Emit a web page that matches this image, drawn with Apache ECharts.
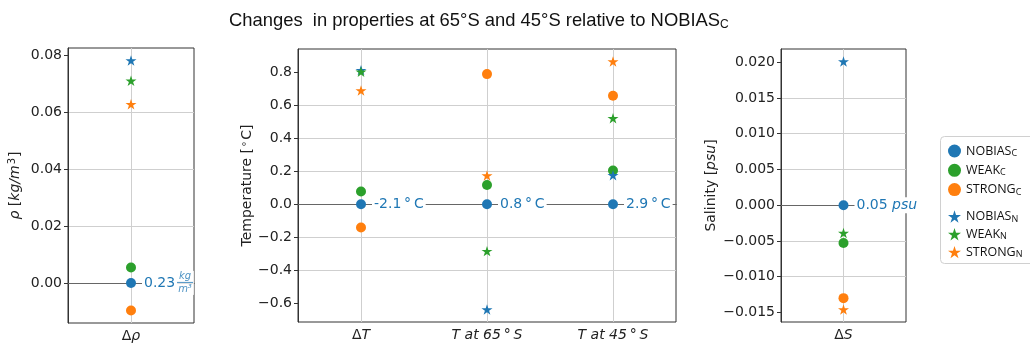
<!DOCTYPE html>
<html>
<head>
<meta charset="utf-8">
<script src="https://cdn.jsdelivr.net/npm/echarts@6/dist/echarts.min.js"></script>
<style>
  html, body { margin: 0; padding: 0; background: #fff; }
  #chart { width: 1030px; height: 346px; }
</style>
</head>
<body>
<div id="chart"></div>
<script>
// Property order: [Δρ, ΔT, T at 65°S, T at 45°S, ΔS]
const categories = ['Δρ', 'ΔT', 'T at 65°S', 'T at 45°S', 'ΔS'];

// Changes relative to NOBIAS_C for each run
const nobiasC = [0, 0, 0, 0, 0];
const weakC   = [0.0054, 0.077, 0.117, 0.205, -0.0053];
const strongC = [-0.0097, -0.142, 0.790, 0.658, -0.0130];
const nobiasN = [0.0782, 0.814, -0.640, 0.176, 0.0201];
const weakN   = [0.0711, 0.804, -0.285, 0.522, -0.0039];
const strongN = [0.0628, 0.690, 0.174, 0.867, -0.0146];

// Absolute NOBIAS_C values written next to the reference points
const refValues = ['0.23', '-2.1', '0.8', '2.9', '0.05'];

// Tick labels of the three value axes
const rhoTicks  = [0, 0.02, 0.04, 0.06, 0.08];
const tempTicks = [-0.6, -0.4, -0.2, 0, 0.2, 0.4, 0.6, 0.8];
const salTicks  = [-0.015, -0.010, -0.005, 0, 0.005, 0.010, 0.015, 0.020];

const runNames  = ['NOBIAS_C', 'WEAK_C', 'STRONG_C', 'NOBIAS_N', 'WEAK_N', 'STRONG_N'];
const runValues = [nobiasC, weakC, strongC, nobiasN, weakN, strongN];
const runColors = ['#1f77b4', '#2ca02c', '#ff7f0e', '#1f77b4', '#2ca02c', '#ff7f0e'];
const STAR = 'path://M50,0L61.2,34.5L97.6,34.5L68.2,55.9L79.4,90.5L50,69.1L20.6,90.5L31.8,55.9L2.4,34.5L38.8,34.5Z';
const runSymbols = ['circle', 'circle', 'circle', STAR, STAR, STAR];

const FONT = 'DejaVu Sans';
const FS = 14;
const BLUE = '#1f77b4';

const panels = [
  { idx: [0], ticks: rhoTicks, decimals: 2,
    grid: { left: 68, top: 48, width: 126, height: 275 },
    name: '{i|ρ} [{i|kg/m}{sup|3}]', nameGap: 45,
    refText: v => '{v|' + v + '}' },
  { idx: [1, 2, 3], ticks: tempTicks, decimals: 1,
    grid: { left: 298, top: 49, width: 378, height: 273 },
    name: 'Temperature [{sup|∘}C]', nameGap: 43,
    refText: v => '{v|' + v + '\u2009°\u2009C}' },
  { idx: [4], ticks: salTicks, decimals: 3,
    grid: { left: 781, top: 49, width: 125, height: 273 },
    name: 'Salinity [{i|psu}]', nameGap: 63,
    refText: v => '{v|' + v + ' }{i|psu}' }
];

function mathLabel(c) {
  if (c.startsWith('Δ')) return '{n|Δ}{i|' + c.slice(1) + '}';
  const parts = c.split('°');
  return '{i|' + parts[0] + '\u2009}{n|°}{i|\u2009' + parts[1] + '}';
}

function tickText(v, d) {
  if (Math.abs(v) < 1e-12) v = 0;
  return (v < 0 ? '−' : '') + Math.abs(v).toFixed(d);
}

const richText = {
  i: { fontFamily: FONT, fontStyle: 'italic', fontSize: FS, color: '#222' },
  n: { fontFamily: FONT, fontSize: FS, color: '#222' },
  sup: { fontFamily: FONT, fontSize: 10, color: '#222', verticalAlign: 'top', padding: [0, 1, 6, 1] }
};

const grids = [], xAxes = [], yAxes = [], series = [];

panels.forEach((p, pi) => {
  const cats = p.idx.map(i => categories[i]);
  const all = [];
  runValues.forEach(r => p.idx.forEach(i => all.push(r[i])));
  const lo = Math.min(...all), hi = Math.max(...all);
  const pad = 0.05 * (hi - lo);

  grids.push(Object.assign({ show: true, borderColor: '#333', borderWidth: 1, backgroundColor: 'transparent' }, p.grid));

  xAxes.push({
    type: 'category', gridIndex: pi, data: cats, boundaryGap: true,
    axisLine: { show: true, lineStyle: { color: '#333' } },
    axisTick: { show: true, alignWithLabel: true, length: 4, lineStyle: { color: '#333' } },
    axisLabel: { interval: 0, margin: 6, formatter: mathLabel, rich: richText, fontFamily: FONT, fontSize: FS, color: '#222' },
    splitLine: { show: false }
  });

  yAxes.push({
    type: 'value', gridIndex: pi, min: lo - pad, max: hi + pad,
    name: p.name, nameLocation: 'middle', nameGap: p.nameGap, nameRotate: 90,
    nameTextStyle: { fontFamily: FONT, fontSize: FS, color: '#222', rich: richText },
    axisLine: { show: true, lineStyle: { color: '#333' } },
    axisTick: { show: true, length: 4, customValues: p.ticks, lineStyle: { color: '#333' } },
    axisLabel: { show: true, customValues: p.ticks, margin: 6, fontFamily: FONT, fontSize: FS, color: '#222',
                 formatter: v => tickText(v, p.decimals) },
    splitLine: { show: true, showMinLine: false, showMaxLine: false, lineStyle: { color: '#cfcfcf', width: 1 } }
  });

  // vertical category guides and the zero reference line
  series.push({
    type: 'scatter', name: 'guides' + pi, xAxisIndex: pi, yAxisIndex: pi, data: [], z: 1, silent: true,
    markLine: {
      silent: true, symbol: 'none', z: 1, animation: false,
      label: { show: false },
      lineStyle: { color: '#cfcfcf', width: 1, type: 'solid' },
      data: cats.map(c => ({ xAxis: c })).concat([{ yAxis: 0, lineStyle: { color: '#666', width: 1.2, type: 'solid' } }])
    }
  });

  runNames.forEach((rn, ri) => {
    const isRef = ri === 0;
    series.push({
      type: 'scatter', name: rn, xAxisIndex: pi, yAxisIndex: pi,
      symbol: runSymbols[ri], symbolKeepAspect: true,
      symbolSize: runSymbols[ri] === 'circle' ? 10 : 11,
      itemStyle: { color: runColors[ri], opacity: 1 },
      z: isRef ? 6 : 3 + ri * 0.1,
      data: p.idx.map(i => {
        const item = { value: [categories[i], runValues[ri][i]] };
        if (isRef) {
          item.label = {
            show: true, position: 'right', distance: 6,
            formatter: p.refText(refValues[i]),
            backgroundColor: '#fff', padding: [1, 2],
            rich: {
              v: { fontFamily: FONT, fontSize: FS, color: BLUE },
              i: { fontFamily: FONT, fontStyle: 'italic', fontSize: FS, color: BLUE }
            }
          };
        }
        return item;
      })
    });
  });

  // density unit written as a small fraction after the reference value
  if (pi === 0) {
    series.push({
      type: 'scatter', name: 'rhoUnit', xAxisIndex: 0, yAxisIndex: 0, z: 7, silent: true,
      symbol: 'circle', symbolSize: 0,
      data: [[categories[0], nobiasC[0]]],
      label: {
        show: true, position: 'right', distance: 45,
        formatter: '{n|kg}\n{b| }\n{d|m³}',
        backgroundColor: '#fff', padding: [0, 1],
        rich: {
          n: { fontFamily: FONT, fontStyle: 'italic', fontSize: 10, color: BLUE, width: 16, align: 'center', lineHeight: 10 },
          b: { fontSize: 1, width: 16, height: 1, lineHeight: 3, backgroundColor: BLUE },
          d: { fontFamily: FONT, fontStyle: 'italic', fontSize: 10, color: BLUE, width: 16, align: 'center', lineHeight: 11 }
        }
      }
    });
  }
});

const LFONT = 'Open Sans';
const legendText = {
  fontFamily: LFONT, fontSize: 12.5, color: '#111',
  rich: { sub: { fontFamily: LFONT, fontSize: 9, color: '#111', verticalAlign: 'bottom', padding: [5, 0, 0, 0] } }
};
const legendFmt = name => { const s = name.split('_'); return s[0] + '{sub|' + s[1] + '}'; };

const option = {
  animation: false,
  backgroundColor: '#fff',
  title: {
    text: 'Changes  in properties at 65°S and 45°S relative to NOBIAS{sub|C}',
    left: 224, top: 6,
    textStyle: {
      fontFamily: 'Liberation Sans', fontSize: 18.4, fontWeight: 'normal', color: '#111',
      rich: { sub: { fontFamily: 'Liberation Sans', fontSize: 12, color: '#111', verticalAlign: 'bottom', padding: [8, 0, 0, 0] } }
    }
  },
  graphic: [{
    type: 'rect', left: 940, top: 136, z: 0, silent: true,
    shape: { width: 110, height: 127, r: 4 },
    style: { fill: '#fff', stroke: '#d0d0d0', lineWidth: 1 }
  }],
  legend: [
    { orient: 'vertical', left: 943, top: 139.5, itemWidth: 13, itemHeight: 13, itemGap: 5.8,
      selectedMode: false, formatter: legendFmt, textStyle: legendText,
      data: runNames.slice(0, 3).map(n => ({ name: n, icon: 'circle' })) },
    { orient: 'vertical', left: 943, top: 205, itemWidth: 13, itemHeight: 13, itemGap: 4.3,
      selectedMode: false, formatter: legendFmt, textStyle: legendText,
      data: runNames.slice(3).map(n => ({ name: n, icon: STAR })) }
  ],
  grid: grids,
  xAxis: xAxes,
  yAxis: yAxes,
  series: series
};

const chart = echarts.init(document.getElementById('chart'), null, { renderer: 'canvas' });
chart.setOption(option);
</script>
</body>
</html>
